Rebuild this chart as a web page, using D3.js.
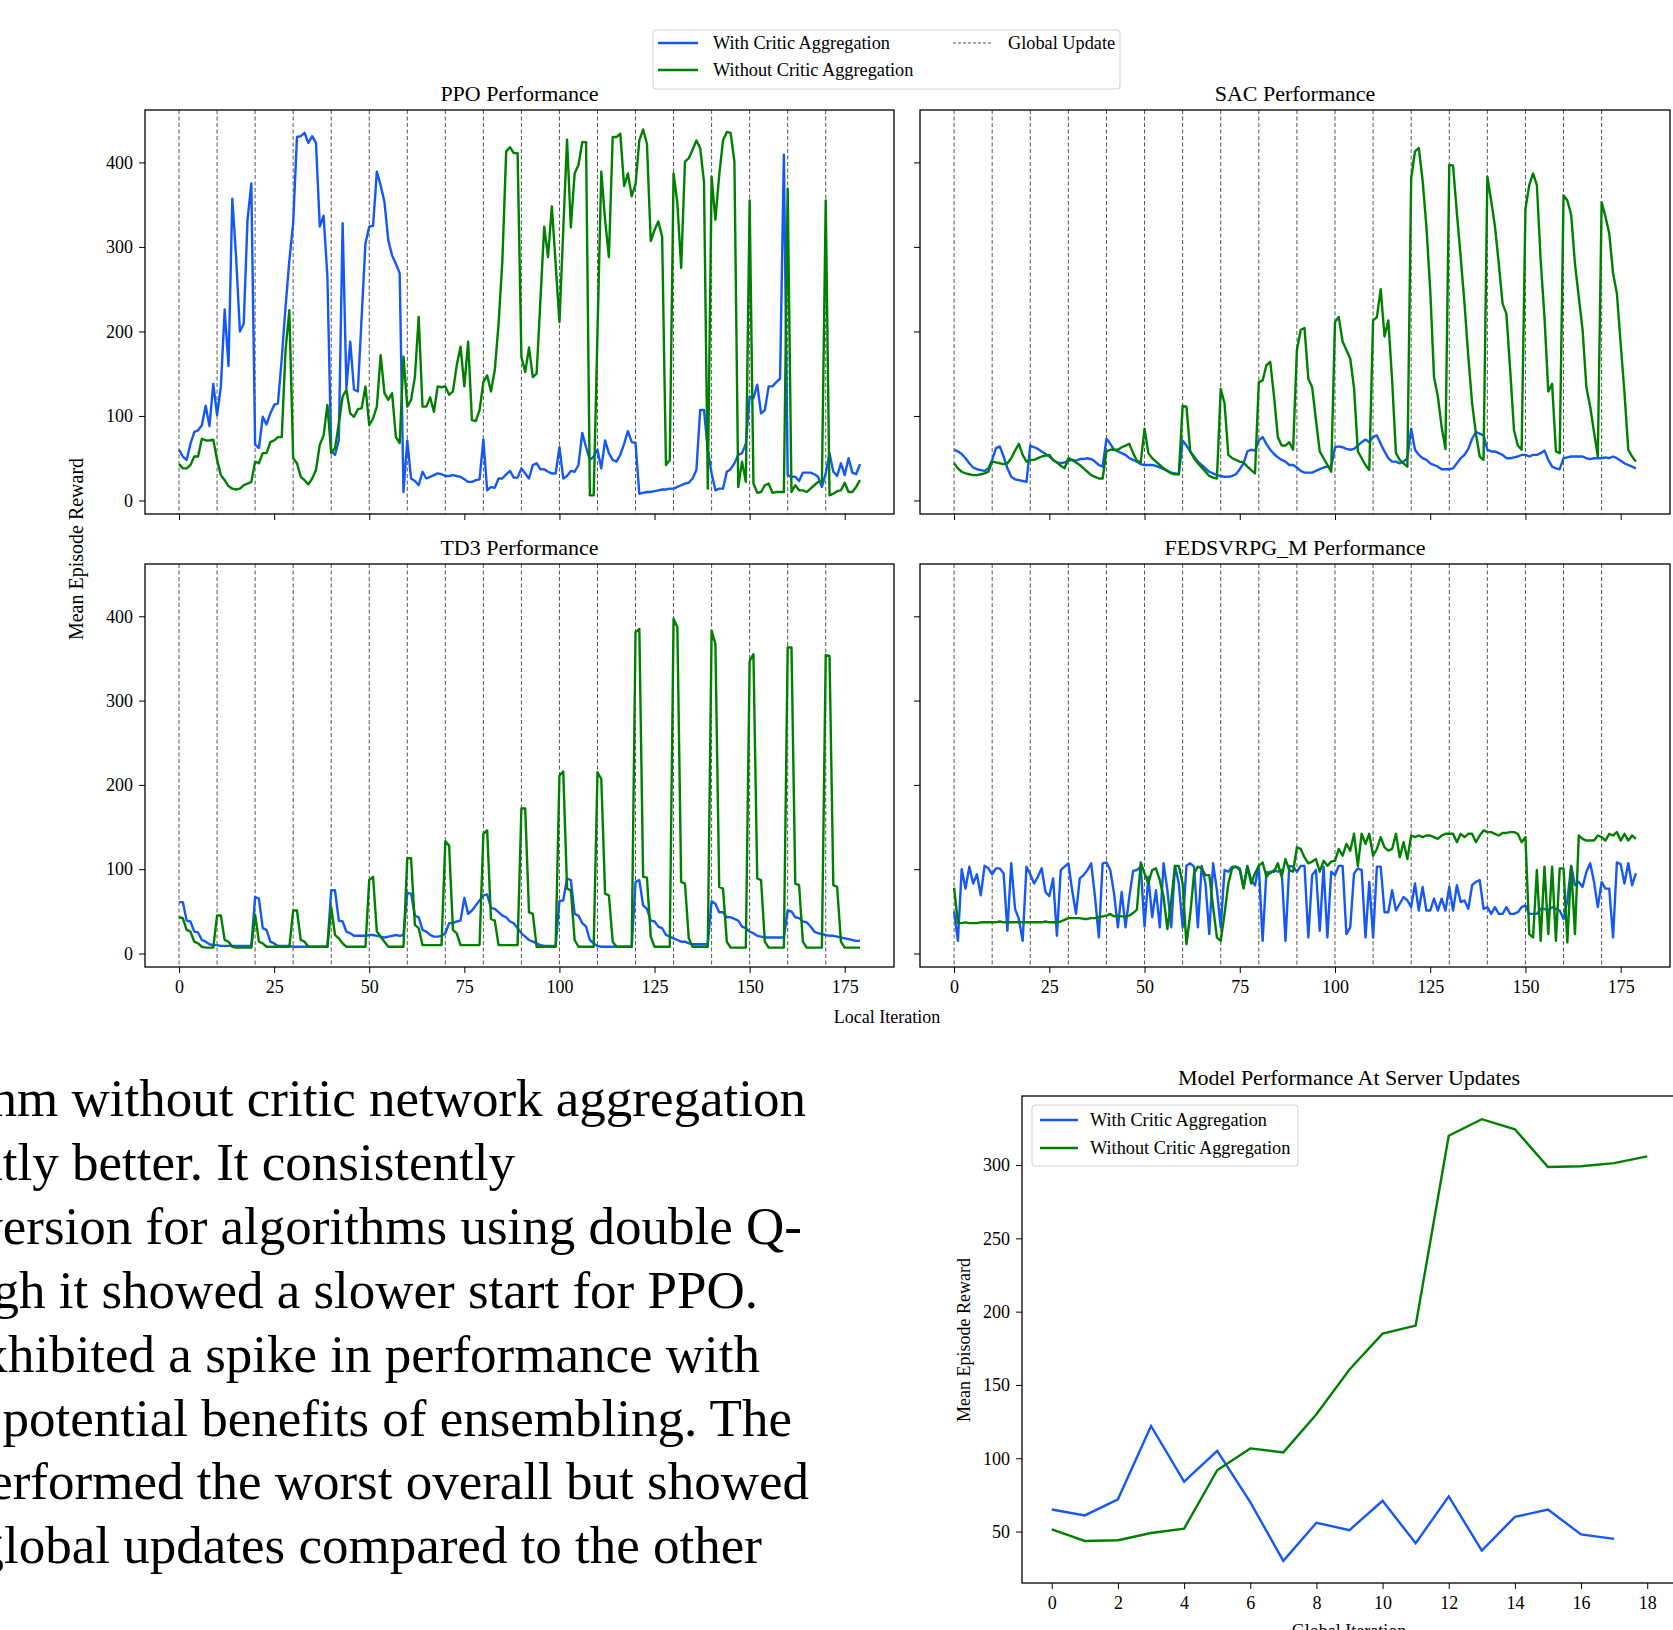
<!DOCTYPE html>
<html>
<head>
<meta charset="utf-8">
<script src="https://cdn.jsdelivr.net/npm/d3@7"></script>
<style>
  body { margin: 0; background: #fff; }
  text { font-family: "Liberation Serif", "Times New Roman", serif; fill: #000; }
</style>
</head>
<body>
<script>
// ---- data ----
const globalUpdates = [0, 10, 20, 30, 40, 50, 60, 70, 80, 90, 100, 110, 120, 130, 140, 150, 160, 170];
const localTicks = [0, 25, 50, 75, 100, 125, 150, 175];
const rewardTicks = [0, 100, 200, 300, 400];

const ppoWith = [60,52,48,67,81,83,89,112,88,138, 101,135,226,159,357,288,200,209,332,375,
  66,62,99,90,103,113,115,168,229,284, 328,430,431,435,423,431,423,324,337,265,
  58,54,71,328,133,188,131,129,217,304, 324,325,389,373,353,308,290,280,269,10,
  71,26,23,18,34,26,28,30,32,31, 29,29,30,29,28,25,22,22,24,25,
  72,12,16,15,26,26,31,35,27,27, 38,32,26,42,44,37,37,34,32,32,
  63,26,29,35,34,42,80,63,48,52, 60,38,71,56,48,46,54,67,82,69,
  68,8,9,10,10,11,12,13,13,14, 14,16,18,20,21,26,36,107,107,60,
  32,12,14,14,34,37,44,54,56,67, 123,121,137,103,107,135,135,140,144,409,
  30,28,28,23,33,33,33,31,28,16, 32,56,34,29,44,30,50,33,31,43];
const ppoWithout = [43,38,38,42,52,52,73,71,71,72, 48,30,24,17,14,13,14,18,20,22,
  46,44,56,56,69,71,75,75,178,225, 50,44,28,24,19,26,36,66,77,113,
  56,62,91,123,131,103,99,108,109,135, 89,97,111,172,127,119,127,75,68,170,
  111,119,146,217,111,111,122,105,135,134, 135,125,129,160,182,135,188,95,94,107,
  140,148,129,154,209,284,413,418,411,411, 170,152,181,146,150,237,324,288,348,280,
  211,320,427,323,387,397,424,424,6,6, 198,389,332,288,430,430,434,372,387,360,
  374,426,439,422,307,320,330,312,42,48, 387,352,275,401,405,415,426,417,377,14,
  383,332,385,426,436,435,401,16,46,22, 355,20,9,10,18,20,9,10,10,10,
  369,10,18,12,12,10,14,18,22,22, 355,6,8,11,12,21,10,10,16,24];

const sacWith = [60,58,55,50,44,39,37,36,35,38, 48,62,64,52,38,28,25,24,23,22,
  65,63,61,58,55,52,48,45,44,45, 47,48,47,49,49,50,49,46,42,40,
  73,67,60,58,56,54,50,48,46,43, 42,42,42,41,39,37,35,33,32,31,
  71,65,58,52,46,42,38,34,32,30, 29,28,28,29,31,37,44,58,60,59,
  71,75,67,60,55,51,48,46,42,42, 39,35,33,33,33,35,37,39,40,40,
  63,64,63,61,60,61,65,69,72,69, 75,77,67,58,50,46,46,44,46,50,
  85,60,54,50,48,44,42,40,37,37, 37,38,44,50,54,61,73,81,79,77,
  60,58,58,56,54,50,50,51,52,54, 54,52,54,54,56,59,48,40,38,37,
  50,51,52,52,52,52,50,49,50,50, 50,51,50,52,50,47,44,42,40,38];
const sacWithout = [44,38,34,32,31,30,30,31,32,34, 46,45,44,43,44,50,59,67,54,46,
  48,48,50,52,53,54,48,45,41,38, 50,48,45,42,38,34,30,28,26,26,
  58,60,60,60,63,65,67,56,47,45, 85,56,50,46,42,38,35,32,31,31,
  112,111,58,50,44,39,34,29,27,26, 132,115,54,50,48,46,45,40,36,32,
  140,142,160,164,123,75,65,65,69,60, 178,202,204,144,134,95,58,50,42,34,
  211,217,188,178,168,133,58,50,42,36, 213,217,250,194,213,142,56,48,44,40,
  381,413,417,379,324,249,146,123,87,61, 397,396,340,288,233,170,115,79,52,48,
  383,355,324,280,233,221,154,83,65,60, 345,373,387,373,284,217,129,138,58,56,
  361,355,338,280,241,202,134,111,81,52, 353,336,316,269,245,186,127,60,52,46];

const td3With = [61,61,39,38,26,25,16,14,11,10, 10,9,9,9,9,9,9,9,9,9,
  67,65,30,28,14,12,9,9,9,9, 8,8,8,8,8,8,8,8,8,8,
  75,75,39,38,26,24,21,21,21,21, 22,22,21,20,19,20,21,22,21,22,
  72,71,45,43,28,26,22,20,20,21, 24,36,36,38,39,66,47,51,57,63,
  69,70,54,53,49,45,43,38,36,30, 24,20,16,14,12,10,9,9,9,9,
  62,63,89,87,47,45,36,32,16,12, 9,8,8,8,8,8,8,8,8,8,
  85,87,57,53,39,38,32,30,22,20, 18,16,14,14,12,11,11,11,11,11,
  62,59,49,49,43,43,41,39,32,30, 26,24,21,20,19,19,19,19,19,19,
  51,50,43,42,38,37,32,26,24,23, 22,21,21,20,19,18,17,16,15,15];
const td3Without = [43,42,28,26,14,12,8,7,7,7, 45,45,16,14,8,7,7,7,7,7,
  46,14,12,8,8,8,8,8,8,8, 51,51,16,14,8,8,8,8,8,8,
  55,22,18,12,8,8,8,8,8,8, 87,91,26,20,14,8,8,8,8,8,
  113,113,34,30,10,10,10,10,10,10, 133,128,28,24,10,10,10,10,10,10,
  142,146,41,39,10,10,10,10,10,10, 172,172,49,47,8,8,8,8,8,8,
  211,216,77,75,16,8,8,8,8,8, 215,207,71,69,14,8,8,8,8,8,
  381,385,91,90,20,8,8,8,8,8, 397,387,85,83,18,8,8,8,8,8,
  383,367,79,77,14,7,7,7,7,7, 347,355,89,87,14,7,7,7,7,7,
  363,363,83,81,14,7,7,7,7,7, 354,353,81,79,14,7,7,7,7,7];

const fedWith = [50,15,100,77,103,83,94,69,104,101, 94,101,101,95,27,107,53,41,15,103,
  94,83,91,101,73,68,89,21,99,103, 107,75,47,89,93,99,107,67,19,107,
  108,99,71,31,73,31,67,98,99,103, 32,91,43,75,31,107,75,31,104,83,
  31,104,107,103,31,104,83,23,107,75, 31,99,97,103,103,101,79,104,87,81,
  104,15,97,95,99,97,99,15,104,103, 97,104,104,19,93,99,27,103,19,97,
  93,104,104,23,31,95,101,99,19,85, 19,103,103,49,49,75,51,59,67,63,
  55,83,51,79,51,51,65,51,65,51, 79,51,81,61,63,53,81,85,87,53,
  55,47,55,47,47,55,47,47,49,55, 57,47,47,47,53,53,51,55,53,51,
  41,63,104,81,85,79,97,107,85,55, 85,77,77,19,108,106,83,107,81,95];
const fedWithout = [78,36,36,37,36,36,36,37,37,37, 37,37,38,37,37,37,37,37,37,37,
  37,37,37,37,38,37,37,37,38,40, 42,42,42,42,41,41,42,42,43,44,
  45,47,44,45,44,44,45,48,52,108, 95,83,99,101,87,67,29,63,104,104,
  83,11,47,95,103,101,93,93,55,19, 15,47,83,101,103,99,77,103,83,95,
  104,108,91,97,97,107,91,112,99,97, 126,124,114,107,109,112,97,110,104,109,
  110,124,116,130,122,142,104,142,130,142, 116,124,138,126,122,124,142,114,132,112,
  140,138,140,138,140,140,138,136,140,142, 142,142,132,142,138,142,142,132,140,146,
  144,144,142,140,143,143,144,144,142,132, 138,23,19,99,15,103,23,103,15,101,
  101,13,103,23,140,136,134,134,134,140, 138,134,142,140,144,134,142,134,140,136];

// server-update chart
const globalIters = [0,1,2,3,4,5,6,7,8,9,10,11,12,13,14,15,16,17,18];
const serverWith = [65,61,72,122,84,105,70,30,56,51,71,42,74,37,60,65,48,45];
const serverWithout = [51.5,43.6,44.1,49,52,91.8,106.7,104,130,160.5,185,190.5,320,331.3,324.4,298.7,299.2,301.3,305.9];
const globalTicks = [0,2,4,6,8,10,12,14,16,18];
const serverTicks = [50,100,150,200,250,300];

const paraLines = [
  "of the algorithm without critic network aggregation",
  "performed significantly better. It consistently",
  "outperformed the other version for algorithms using double Q-",
  "learning, although it showed a slower start for PPO.",
  "TD3 also exhibited a spike in performance with",
  "each global update, suggesting potential benefits of ensembling. The",
  "FEDSVRPG_M algorithm performed the worst overall but showed",
  "more stability between global updates compared to the other"
];

// ---- drawing ----
const width = 1673, height = 1630;
const blue = "#1558f5", green = "#008000";
const lw = 2.4;

const svg = d3.select("body").append("svg")
  .attr("width", width)
  .attr("height", height);

// paragraph text cut off on the left
const paraEnds = [806, 515, 802, 758, 760, 792, 809, 762];
svg.append("g").selectAll("text")
  .data(paraLines)
  .enter().append("text")
    .attr("x", (d, i) => paraEnds[i])
    .attr("y", (d, i) => 1116 + i * 63.9)
    .attr("text-anchor", "end")
    .style("font-size", "53px")
    .text(d => d);

const panels = [
  {title: "PPO Performance", a: ppoWith, b: ppoWithout, x0: 145, x1: 894, y0: 110, y1: 514, ylabels: true, xlabels: false},
  {title: "SAC Performance", a: sacWith, b: sacWithout, x0: 920, x1: 1670, y0: 110, y1: 514, ylabels: false, xlabels: false},
  {title: "TD3 Performance", a: td3With, b: td3Without, x0: 145, x1: 894, y0: 564, y1: 967, ylabels: true, xlabels: true},
  {title: "FEDSVRPG_M Performance", a: fedWith, b: fedWithout, x0: 920, x1: 1670, y0: 564, y1: 967, ylabels: false, xlabels: true}
];

function drawPanel(p) {
  const x = d3.scaleLinear().domain([-8.95, 187.95]).range([p.x0, p.x1]);
  const y = d3.scaleLinear().domain([-16, 462]).range([p.y1, p.y0]);
  const g = svg.append("g");

  // dashed global update markers
  g.selectAll("line.gu")
    .data(globalUpdates)
    .enter().append("line")
      .attr("x1", d => x(d)).attr("x2", d => x(d))
      .attr("y1", p.y0).attr("y2", p.y1)
      .attr("stroke", "#555")
      .attr("stroke-width", 1)
      .attr("stroke-dasharray", "4,2.5");

  const line = d3.line().x((d, i) => x(i)).y(d => y(d));
  g.append("path").datum(p.a)
    .attr("d", line).attr("fill", "none")
    .attr("stroke", blue).attr("stroke-width", lw).attr("stroke-linejoin", "round");
  g.append("path").datum(p.b)
    .attr("d", line).attr("fill", "none")
    .attr("stroke", green).attr("stroke-width", lw).attr("stroke-linejoin", "round");

  const xa = g.append("g").attr("transform", "translate(0," + p.y1 + ")")
    .call(d3.axisBottom(x).tickValues(localTicks).tickSize(6).tickPadding(7)
      .tickFormat(p.xlabels ? d3.format("d") : ""));
  const ya = g.append("g").attr("transform", "translate(" + p.x0 + ",0)")
    .call(d3.axisLeft(y).tickValues(rewardTicks).tickSize(6).tickPadding(6)
      .tickFormat(p.ylabels ? d3.format("d") : ""));
  [xa, ya].forEach(a => {
    a.select(".domain").remove();
    a.selectAll("line").attr("stroke", "#000").attr("stroke-width", 1);
    a.selectAll("text").style("font-size", "18px")
      .style("font-family", "'Liberation Serif', serif").attr("fill", "#000");
  });

  g.append("rect")
    .attr("x", p.x0).attr("y", p.y0)
    .attr("width", p.x1 - p.x0).attr("height", p.y1 - p.y0)
    .attr("fill", "none").attr("stroke", "#000").attr("stroke-width", 1.3);

  g.append("text")
    .attr("x", (p.x0 + p.x1) / 2).attr("y", p.y0 - 9)
    .attr("text-anchor", "middle")
    .style("font-size", "22px")
    .text(p.title);
}
panels.forEach(drawPanel);

// shared labels
svg.append("text")
  .attr("transform", "translate(83,549) rotate(-90)")
  .attr("text-anchor", "middle")
  .style("font-size", "20px")
  .text("Mean Episode Reward");
svg.append("text")
  .attr("x", 887).attr("y", 1023)
  .attr("text-anchor", "middle")
  .style("font-size", "18px")
  .text("Local Iteration");

// top legend
const leg = svg.append("g");
leg.append("rect")
  .attr("x", 653).attr("y", 30).attr("width", 467).attr("height", 59).attr("rx", 3)
  .attr("fill", "#fff").attr("stroke", "#d0d0d0");
const legItems = [
  {label: "With Critic Aggregation", color: blue, dash: null, lx: 658, ly: 43},
  {label: "Without Critic Aggregation", color: green, dash: null, lx: 658, ly: 70},
  {label: "Global Update", color: "#555", dash: "3,2", lx: 953, ly: 43}
];
legItems.forEach(it => {
  leg.append("line")
    .attr("x1", it.lx).attr("x2", it.lx + 40).attr("y1", it.ly).attr("y2", it.ly)
    .attr("stroke", it.color).attr("stroke-width", it.dash ? 1 : lw)
    .attr("stroke-dasharray", it.dash);
  leg.append("text")
    .attr("x", it.lx + 55).attr("y", it.ly + 6)
    .style("font-size", "18.3px")
    .text(it.label);
});

// ---- server update chart ----
const sx = d3.scaleLinear().domain([-0.9, 18.9]).range([1022, 1677]);
const sy = d3.scaleLinear().domain([14.9, 347.1]).range([1583, 1096]);
const sg = svg.append("g");

const sline = d3.line().x((d, i) => sx(globalIters[i])).y(d => sy(d));
sg.append("path").datum(serverWith)
  .attr("d", sline).attr("fill", "none").attr("stroke", blue).attr("stroke-width", lw);
sg.append("path").datum(serverWithout)
  .attr("d", sline).attr("fill", "none").attr("stroke", green).attr("stroke-width", lw);

const sxa = sg.append("g").attr("transform", "translate(0,1583)")
  .call(d3.axisBottom(sx).tickValues(globalTicks).tickSize(6).tickPadding(7));
const sya = sg.append("g").attr("transform", "translate(1022,0)")
  .call(d3.axisLeft(sy).tickValues(serverTicks).tickSize(6).tickPadding(6));
[sxa, sya].forEach(a => {
  a.select(".domain").remove();
  a.selectAll("line").attr("stroke", "#000");
  a.selectAll("text").style("font-size", "18px")
    .style("font-family", "'Liberation Serif', serif").attr("fill", "#000");
});
sg.append("rect")
  .attr("x", 1022).attr("y", 1096).attr("width", 655).attr("height", 487)
  .attr("fill", "none").attr("stroke", "#000").attr("stroke-width", 1.3);

sg.append("text")
  .attr("x", 1349).attr("y", 1085)
  .attr("text-anchor", "middle").style("font-size", "22px")
  .text("Model Performance At Server Updates");
sg.append("text")
  .attr("transform", "translate(970,1340) rotate(-90)")
  .attr("text-anchor", "middle").style("font-size", "18px")
  .text("Mean Episode Reward");
sg.append("text")
  .attr("x", 1349).attr("y", 1637)
  .attr("text-anchor", "middle").style("font-size", "18px")
  .text("Global Iteration");

const sleg = sg.append("g");
sleg.append("rect")
  .attr("x", 1032).attr("y", 1105).attr("width", 266).attr("height", 61).attr("rx", 3)
  .attr("fill", "#fff").attr("stroke", "#d0d0d0");
[{label: "With Critic Aggregation", color: blue, ly: 1120},
 {label: "Without Critic Aggregation", color: green, ly: 1148}].forEach(it => {
  sleg.append("line")
    .attr("x1", 1040).attr("x2", 1078).attr("y1", it.ly).attr("y2", it.ly)
    .attr("stroke", it.color).attr("stroke-width", lw);
  sleg.append("text")
    .attr("x", 1090).attr("y", it.ly + 6)
    .style("font-size", "18.3px")
    .text(it.label);
});
</script>
</body>
</html>
